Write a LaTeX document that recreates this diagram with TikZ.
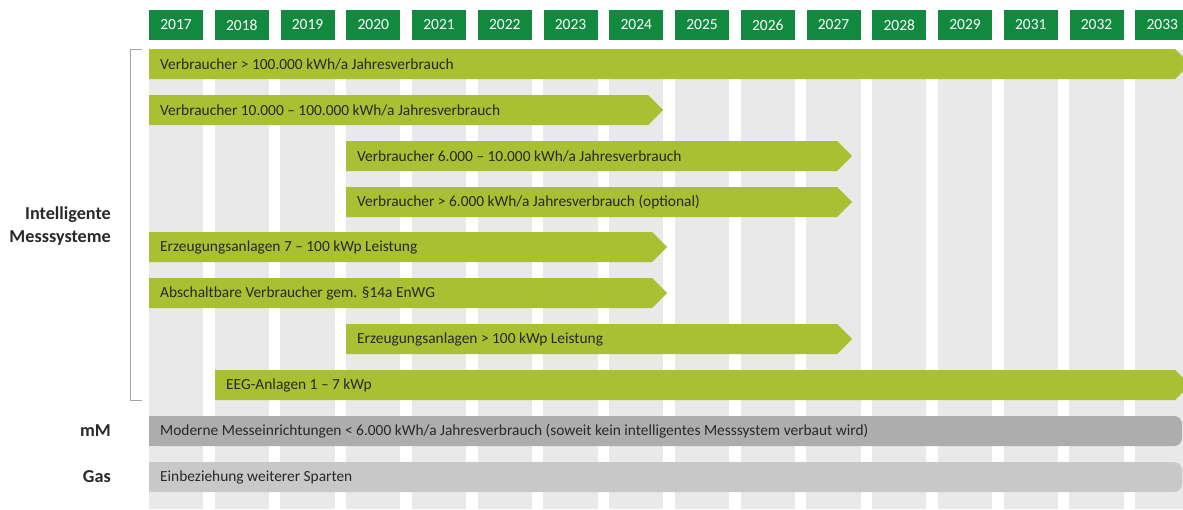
\documentclass[tikz,border=0pt]{standalone}
\usepackage{fontspec}
\setmainfont{Carlito}
\usetikzlibrary{positioning}

\definecolor{yeargreen}{RGB}{17,137,62}
\definecolor{barlime}{RGB}{169,192,50}
\definecolor{stripegray}{RGB}{233,233,233}
\definecolor{mmgray}{RGB}{173,173,173}
\definecolor{gasgray}{RGB}{200,200,200}
\definecolor{textdark}{RGB}{40,40,40}
\definecolor{bracketgray}{RGB}{165,165,165}

% bar with arrow head: name, row, start, tip, text
\newcommand{\timebar}[5]{%
  \fill[barlime] (#3,#2-15) -- (#4-15,#2-15) -- (#4,#2) -- (#4-15,#2+15) -- (#3,#2+15) -- cycle;
  \node[bartext] (#1) at (#3+11,#2) {#5};}

\begin{document}
\begin{tikzpicture}[x=1pt,y=-1pt,node distance=65.75pt,
    yearbox/.style={fill=yeargreen,text=white,minimum width=54pt,minimum height=30pt,inner sep=0pt,
      font=\fontsize{15.5}{17}\selectfont},
    bartext/.style={anchor=west,inner sep=0pt,text=textdark,font=\fontsize{15.4}{17}\selectfont},
    sidelabel/.style={anchor=east,align=right,inner sep=0pt,text=textdark,
      font=\fontsize{18.2}{23.5}\selectfont\bfseries}]
  \useasboundingbox (0,0) rectangle (1183,509);
  \clip (0,0) rectangle (1183,509);

  \node[yearbox] (y2017) at (176,25)    {2017};
  \node[yearbox] (y2018) [right of=y2017] {2018};
  \node[yearbox] (y2019) [right of=y2018] {2019};
  \node[yearbox] (y2020) [right of=y2019] {2020};
  \node[yearbox] (y2021) [right of=y2020] {2021};
  \node[yearbox] (y2022) [right of=y2021] {2022};
  \node[yearbox] (y2023) [right of=y2022] {2023};
  \node[yearbox] (y2024) [right of=y2023] {2024};
  \node[yearbox] (y2025) [right of=y2024] {2025};
  \node[yearbox] (y2026) [right of=y2025] {2026};
  \node[yearbox] (y2027) [right of=y2026] {2027};
  \node[yearbox] (y2028) [right of=y2027] {2028};
  \node[yearbox] (y2029) [right of=y2028] {2029};
  \node[yearbox] (y2031) [right of=y2029] {2031};
  \node[yearbox] (y2032) [right of=y2031] {2032};
  \node[yearbox] (y2033) [right of=y2032] {2033};

  % stripes under the years
  \foreach \yr in {2017,...,2029,2031,2032,2033}
    \fill[stripegray] (y\yr.west |- 0,50) rectangle (y\yr.east |- 0,509);

  \timebar{vb1}{64}{149}{1190}{Verbraucher > 100.000 kWh/a Jahresverbrauch}
  \timebar{vb2}{110}{149}{663}{Verbraucher 10.000 – 100.000 kWh/a Jahresverbrauch}
  \timebar{vb3}{156}{346}{852}{Verbraucher 6.000 – 10.000 kWh/a Jahresverbrauch}
  \timebar{vb4}{202}{346}{852}{Verbraucher > 6.000 kWh/a Jahresverbrauch (optional)}
  \timebar{ea1}{247}{149}{667}{Erzeugungsanlagen 7 – 100 kWp Leistung}
  \timebar{av}{293}{149}{667}{Abschaltbare Verbraucher gem. §14a EnWG}
  \timebar{ea2}{339}{346}{852}{Erzeugungsanlagen > 100 kWp Leistung}
  \timebar{eeg}{385}{215}{1190}{EEG-Anlagen 1 – 7 kWp}

  \fill[mmgray,rounded corners=8pt] (149,416) rectangle (1182,446);
  \fill[mmgray] (149,416) rectangle (170,446);
  \node[bartext] (mme) at (160,431) {Moderne Messeinrichtungen < 6.000 kWh/a Jahresverbrauch (soweit kein intelligentes Messsystem verbaut wird)};
  \fill[gasgray,rounded corners=8pt] (149,462) rectangle (1182,492);
  \fill[gasgray] (149,462) rectangle (170,492);
  \node[bartext] (sp) at (160,477) {Einbeziehung weiterer Sparten};

  \draw[bracketgray,line width=1pt] (142,49) -- (130,49) -- (130,400) -- (142,400);

  \node[sidelabel] (ims) at (111,226) {Intelligente\\Messsysteme};
  \node[sidelabel] (mm)  at (111,431) {mM};
  \node[sidelabel] (gas) at (111,477) {Gas};
\end{tikzpicture}
\end{document}
